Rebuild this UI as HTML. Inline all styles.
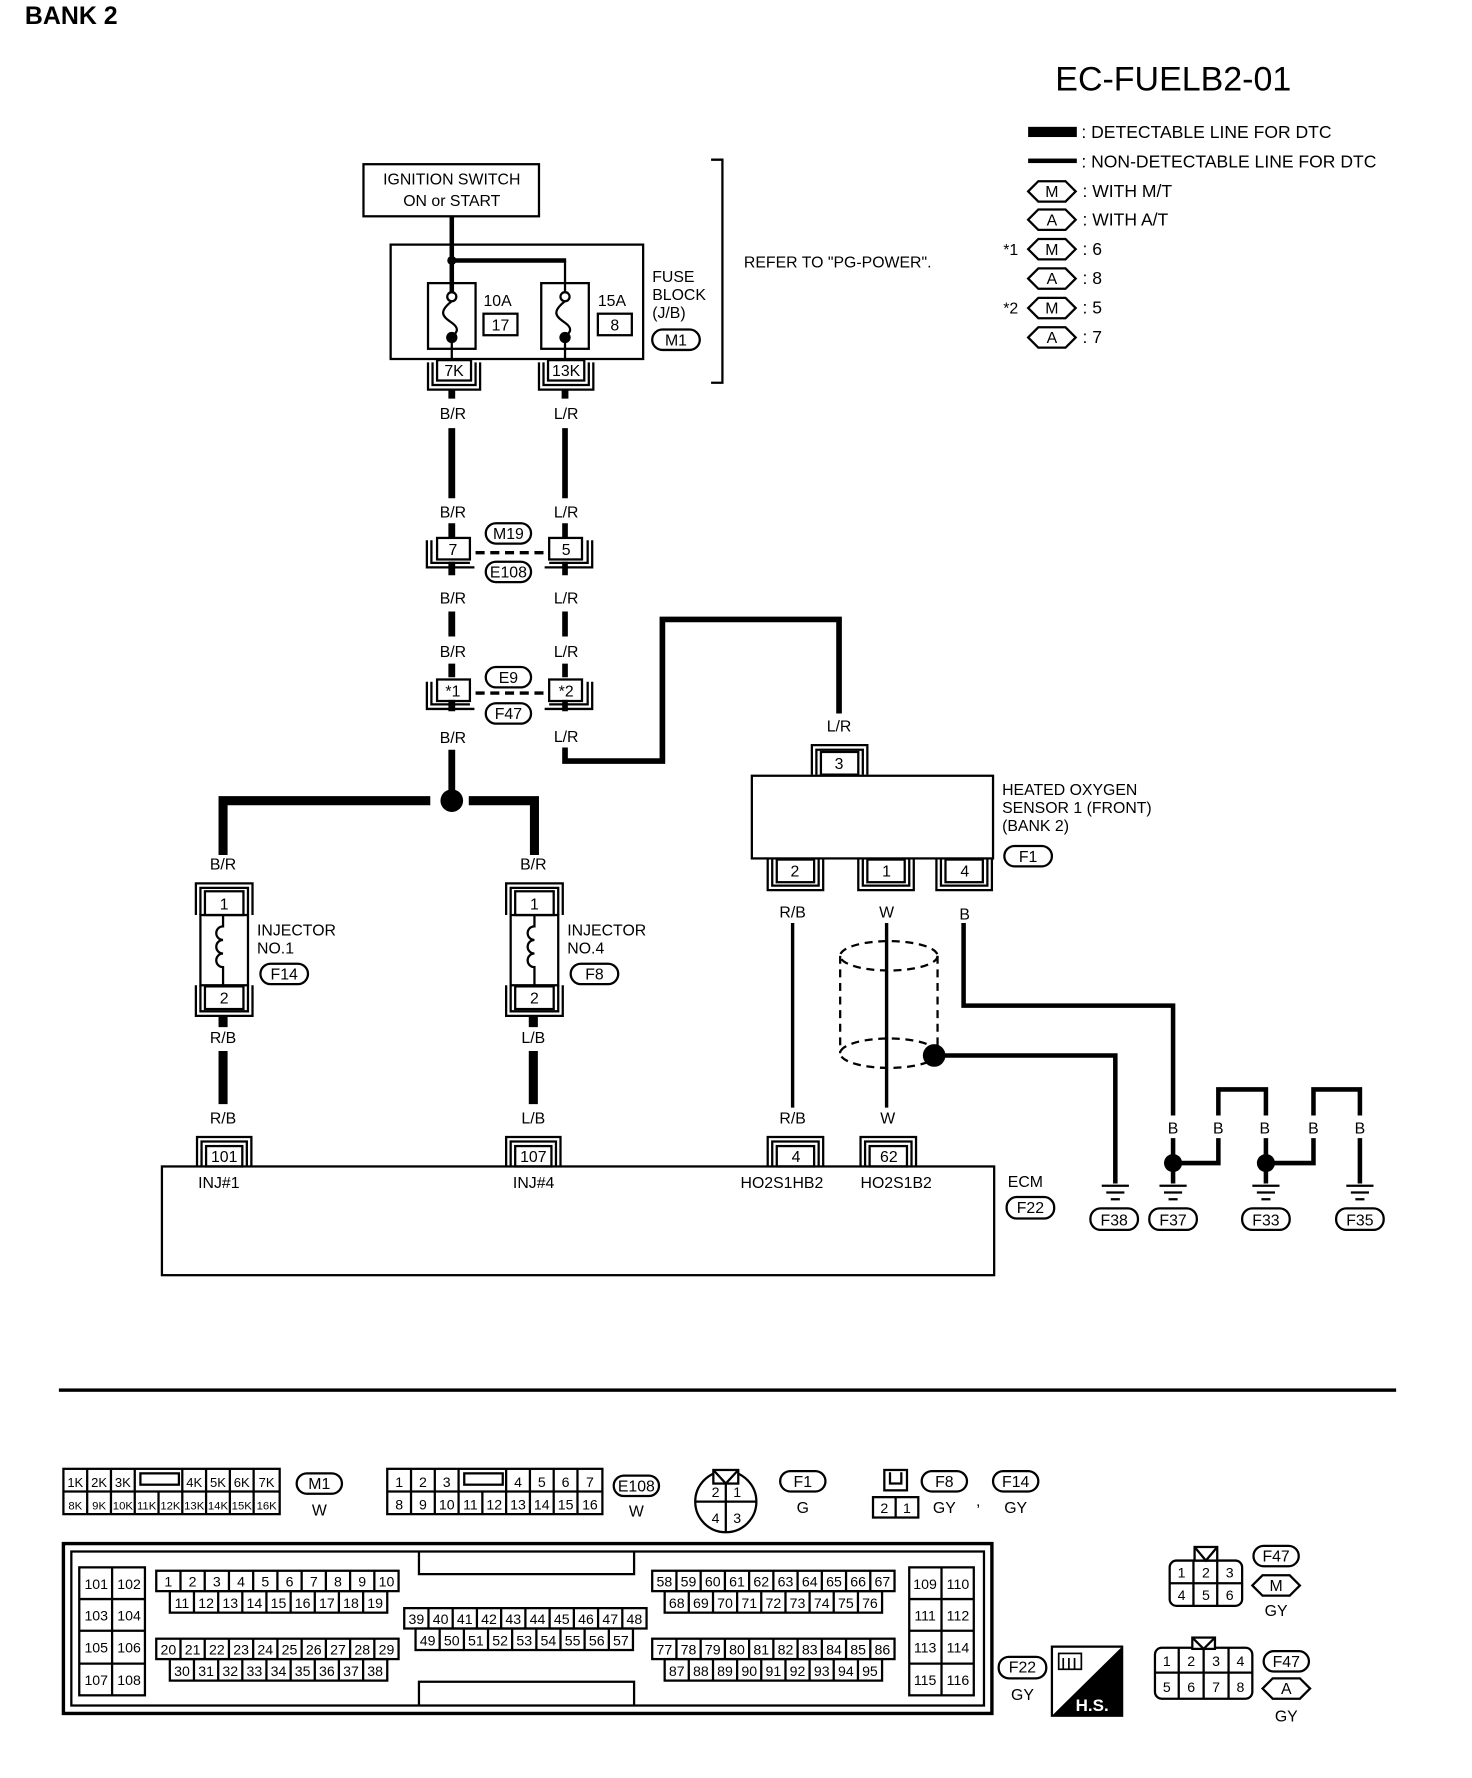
<!DOCTYPE html>
<html><head><meta charset="utf-8"><style>
html,body{margin:0;padding:0;background:#fff}
svg{display:block}
text{font-family:"Liberation Sans",sans-serif;fill:#000}
.t{font-size:14px}
.p{font-size:12.5px;text-anchor:middle}
.m{text-anchor:middle}
.l{font-size:15.5px}
</style></head><body>
<svg width="1472" height="1778" viewBox="0 0 1300 1570" preserveAspectRatio="none" xmlns="http://www.w3.org/2000/svg">
<defs>
<g id="rowA" fill="none" stroke="#000" stroke-width="2"><rect x="138" y="0" width="214" height="18"/><path d="M159.4 0V18M180.8 0V18M202.2 0V18M223.6 0V18M245 0V18M266.4 0V18M287.8 0V18M309.2 0V18M330.6 0V18"/></g>
<g id="rowB" fill="none" stroke="#000" stroke-width="2"><rect x="150" y="0" width="192" height="19"/><path d="M171.3 0V19M192.7 0V19M214 0V19M235.3 0V19M256.7 0V19M278 0V19M299.3 0V19M320.7 0V19"/></g>
</defs>
<rect width="1300" height="1570" fill="#fff"/>
<text x="22" y="21" style="font-size:22px;font-weight:bold">BANK 2</text>
<text x="932" y="80" style="font-size:30px">EC-FUELB2-01</text>

<!-- legend -->
<rect x="908" y="112" width="43" height="9" fill="#000"/>
<text class="l" x="955" y="122">: DETECTABLE LINE FOR DTC</text>
<rect x="908" y="140" width="43" height="4" fill="#000"/>
<text class="l" x="955" y="148">: NON-DETECTABLE LINE FOR DTC</text>
<g fill="#fff" stroke="#000" stroke-width="2">
<polygon points="908,169 917,160 941,160 950,169 941,178 917,178"/>
<polygon points="908,194 917,185 941,185 950,194 941,203 917,203"/>
<polygon points="908,220 917,211 941,211 950,220 941,229 917,229"/>
<polygon points="908,246 917,237 941,237 950,246 941,255 917,255"/>
<polygon points="908,272 917,263 941,263 950,272 941,281 917,281"/>
<polygon points="908,298 917,289 941,289 950,298 941,307 917,307"/>
</g>
<text class="t m" x="929" y="174">M</text><text class="l" x="956" y="174">: WITH M/T</text>
<text class="t m" x="929" y="199">A</text><text class="l" x="956" y="199">: WITH A/T</text>
<text class="t" x="886" y="225">*1</text><text class="t m" x="929" y="225">M</text><text class="l" x="956" y="225">: 6</text>
<text class="t m" x="929" y="251">A</text><text class="l" x="956" y="251">: 8</text>
<text class="t" x="886" y="277">*2</text><text class="t m" x="929" y="277">M</text><text class="l" x="956" y="277">: 5</text>
<text class="t m" x="929" y="303">A</text><text class="l" x="956" y="303">: 7</text>

<!-- ignition + fuse block -->
<g fill="none" stroke="#000" stroke-width="2">
<rect x="321" y="145" width="155" height="46"/>
<rect x="345" y="216" width="223" height="101"/>
<rect x="378" y="250" width="42" height="58"/>
<rect x="478" y="250" width="42" height="58"/>
<rect x="427" y="277" width="30" height="19"/>
<rect x="528" y="277" width="30" height="19"/>
<path d="M628 141H638V338H628"/>
<path d="M499 230V258M399 302V318M499 302V318"/>
<path d="M399 266C386 276 392 280 399 285C406 290 404 293 399 298"/>
<path d="M499 266C486 276 492 280 499 285C506 290 504 293 499 298"/>
<circle cx="399" cy="262" r="4"/><circle cx="499" cy="262" r="4"/>
</g>
<path d="M399 191V258M399 230H500" stroke="#000" stroke-width="4" fill="none"/>
<circle cx="399" cy="230" r="4"/><circle cx="399" cy="298" r="5"/><circle cx="499" cy="298" r="5"/>
<text class="t m" x="399" y="163">IGNITION SWITCH</text>
<text class="t m" x="399" y="182">ON or START</text>
<text class="t" x="427" y="270">10A</text><text class="t m" x="442" y="292">17</text>
<text class="t" x="528" y="270">15A</text><text class="t m" x="543" y="292">8</text>
<text class="t" x="576" y="249">FUSE</text><text class="t" x="576" y="265">BLOCK</text><text class="t" x="576" y="281">(J/B)</text>
<rect x="576" y="291" width="42" height="18" rx="9" fill="none" stroke="#000" stroke-width="2"/><text class="t m" x="597" y="305">M1</text>
<text class="t" x="657" y="236">REFER TO "PG-POWER".</text>

<!-- connectors under fuse -->
<g fill="none" stroke="#000" stroke-width="2">
<rect x="386" y="318" width="30" height="18"/><path d="M382 320V340H420V320M378 320V344H424V320"/>
<rect x="484" y="318" width="32" height="18"/><path d="M480 320V340H520V320M476 320V344H524V320"/>
</g>
<text class="t m" x="401" y="332">7K</text><text class="t m" x="500" y="332">13K</text>

<!-- wires top -->
<g stroke="#000" fill="none">
<path d="M399 344V352M499 344V352" stroke-width="6"/>
<path d="M399 378V440M399 462V476M399 496V508M399 540V562M399 586V598M399 618V628M399 662V700" stroke-width="6"/>
<path d="M499 378V440M499 462V476M499 496V508M499 540V562M499 586V598M499 618V628" stroke-width="5"/>
<path d="M499 660V672H585V547H741V630" stroke-width="5"/>
<path d="M197 755V707H380M414 707H472V755" stroke-width="8"/>
</g>
<circle cx="399" cy="707" r="10"/>
<text class="t m" x="400" y="370">B/R</text><text class="t m" x="500" y="370">L/R</text>
<text class="t m" x="400" y="457">B/R</text><text class="t m" x="500" y="457">L/R</text>
<text class="t m" x="400" y="533">B/R</text><text class="t m" x="500" y="533">L/R</text>
<text class="t m" x="400" y="580">B/R</text><text class="t m" x="500" y="580">L/R</text>
<text class="t m" x="400" y="656">B/R</text><text class="t m" x="500" y="655">L/R</text>
<text class="t m" x="741" y="646">L/R</text>
<!-- inline connectors -->
<g fill="none" stroke="#000" stroke-width="2">
<rect x="386" y="475" width="29" height="19"/><path d="M381 477V497H415M377 477V501H419"/>
<rect x="485" y="475" width="29" height="19"/><path d="M485 497H519V477M481 501H523V477"/>
<path d="M420 488H480" stroke-width="3" stroke-dasharray="8 5"/>
<rect x="429" y="462" width="40" height="18" rx="9"/><rect x="429" y="496" width="40" height="18" rx="9"/>
<rect x="386" y="600" width="29" height="19"/><path d="M381 602V622H415M377 602V626H419"/>
<rect x="485" y="600" width="29" height="19"/><path d="M485 622H519V602M481 626H523V602"/>
<path d="M420 612H480" stroke-width="3" stroke-dasharray="8 5"/>
<rect x="429" y="589" width="40" height="18" rx="9"/><rect x="429" y="621" width="40" height="18" rx="9"/>
</g>
<text class="t m" x="400" y="490">7</text><text class="t m" x="500" y="490">5</text>
<text class="t m" x="449" y="476">M19</text><text class="t m" x="449" y="510">E108</text>
<text class="t m" x="400" y="615">*1</text><text class="t m" x="500" y="615">*2</text>
<text class="t m" x="449" y="603">E9</text><text class="t m" x="449" y="635">F47</text>

<!-- injectors -->
<g fill="none" stroke="#000" stroke-width="2">
<rect x="181" y="787" width="34" height="21"/><path d="M177 808V784H219V808M173 808V780H223V808"/>
<rect x="177" y="808" width="42" height="62"/>
<rect x="181" y="871" width="34" height="20"/><path d="M177 870V893H219V870M173 870V897H223V870"/>
<path d="M197 808V818a6 6 0 1 0 0 12a6 6 0 1 0 0 12a6 6 0 1 0 0 12V870"/>
<rect x="455" y="787" width="34" height="21"/><path d="M451 808V784H493V808M447 808V780H497V808"/>
<rect x="451" y="808" width="42" height="62"/>
<rect x="455" y="871" width="34" height="20"/><path d="M451 870V893H493V870M447 870V897H497V870"/>
<path d="M472 808V818a6 6 0 1 0 0 12a6 6 0 1 0 0 12a6 6 0 1 0 0 12V870"/>
<rect x="230" y="851" width="42" height="18" rx="9"/><rect x="504" y="851" width="42" height="18" rx="9"/>
</g>
<text class="t m" x="198" y="803">1</text><text class="t m" x="198" y="886">2</text>
<text class="t m" x="472" y="803">1</text><text class="t m" x="472" y="886">2</text>
<text class="t" x="227" y="826">INJECTOR</text><text class="t" x="227" y="842">NO.1</text><text class="t m" x="251" y="865">F14</text>
<text class="t" x="501" y="826">INJECTOR</text><text class="t" x="501" y="842">NO.4</text><text class="t m" x="525" y="865">F8</text>
<text class="t m" x="197" y="768">B/R</text><text class="t m" x="471" y="768">B/R</text>
<path d="M197 897V907M197 928V975M471 897V907M471 928V975" stroke="#000" stroke-width="8"/>
<text class="t m" x="197" y="921">R/B</text><text class="t m" x="471" y="921">L/B</text>
<text class="t m" x="197" y="992">R/B</text><text class="t m" x="471" y="992">L/B</text>

<!-- HO2S -->
<g fill="none" stroke="#000" stroke-width="2">
<rect x="664" y="685" width="213" height="73"/>
<rect x="725" y="664" width="33" height="20"/><path d="M721 684V662H762V684M717 684V658H766V684"/>
<rect x="686" y="759" width="33" height="20"/><path d="M682 758V782H723V758M678 758V786H727V758"/>
<rect x="766" y="759" width="33" height="20"/><path d="M762 758V782H803V758M758 758V786H807V758"/>
<rect x="835" y="759" width="33" height="20"/><path d="M831 758V782H872V758M827 758V786H876V758"/>
<rect x="887" y="747" width="42" height="18" rx="9"/>
</g>
<text class="t m" x="741" y="679">3</text>
<text class="t m" x="702" y="774">2</text><text class="t m" x="783" y="774">1</text><text class="t m" x="852" y="774">4</text>
<text class="t" x="885" y="702">HEATED OXYGEN</text><text class="t" x="885" y="718">SENSOR 1 (FRONT)</text><text class="t" x="885" y="734">(BANK 2)</text>
<text class="t m" x="908" y="761">F1</text>
<text class="t m" x="700" y="810">R/B</text><text class="t m" x="783" y="810">W</text><text class="t m" x="852" y="812">B</text>
<g stroke="#000" fill="none" stroke-width="3">
<path d="M700 815V978M783 815V978"/>
<path d="M851 815V888H1036V985M1036 1005V1045" stroke-width="4"/>
<path d="M825 932H985V1045" stroke-width="4"/>
<path d="M1036 1027H1076V1005M1076 985V962H1118V985M1118 1005V1045M1118 1027H1160V1005M1160 985V962H1201V985M1201 1005V1045" stroke-width="4"/>
</g>
<g stroke="#000" fill="none" stroke-width="2" stroke-dasharray="7 5">
<ellipse cx="785" cy="844" rx="43" ry="13"/>
<ellipse cx="785" cy="930" rx="43" ry="13"/>
<path d="M742 844V930M828 844V930"/>
</g>
<circle cx="825" cy="932" r="10"/>
<circle cx="1036" cy="1027" r="8"/><circle cx="1118" cy="1027" r="8"/>
<text class="t m" x="1036" y="1001">B</text><text class="t m" x="1076" y="1001">B</text><text class="t m" x="1117" y="1001">B</text><text class="t m" x="1160" y="1001">B</text><text class="t m" x="1201" y="1001">B</text>
<text class="t m" x="700" y="992">R/B</text><text class="t m" x="784" y="992">W</text>
<!-- grounds -->
<g stroke="#000" fill="none" stroke-width="2">
<path d="M973 1047H997M977 1053H993M981 1059H989"/>
<path d="M1024 1047H1048M1028 1053H1044M1032 1059H1040"/>
<path d="M1106 1047H1130M1110 1053H1126M1114 1059H1122"/>
<path d="M1189 1047H1213M1193 1053H1209M1197 1059H1205"/>
<rect x="963" y="1067" width="42" height="19" rx="9"/>
<rect x="1015" y="1067" width="42" height="19" rx="9"/>
<rect x="1097" y="1067" width="42" height="19" rx="9"/>
<rect x="1180" y="1067" width="42" height="19" rx="9"/>
</g>
<text class="t m" x="984" y="1082">F38</text><text class="t m" x="1036" y="1082">F37</text><text class="t m" x="1118" y="1082">F33</text><text class="t m" x="1201" y="1082">F35</text>

<!-- ECM -->
<g fill="none" stroke="#000" stroke-width="2">
<rect x="143" y="1030" width="735" height="96"/>
<rect x="182" y="1012" width="32" height="18"/><path d="M178 1030V1008H218V1030M174 1030V1004H222V1030"/>
<rect x="455" y="1012" width="32" height="18"/><path d="M451 1030V1008H491V1030M447 1030V1004H495V1030"/>
<rect x="686" y="1012" width="33" height="18"/><path d="M682 1030V1008H723V1030M678 1030V1004H727V1030"/>
<rect x="768" y="1012" width="33" height="18"/><path d="M764 1030V1008H805V1030M760 1030V1004H809V1030"/>
<rect x="889" y="1057" width="42" height="19" rx="9"/>
</g>
<text class="t m" x="198" y="1026">101</text><text class="t m" x="471" y="1026">107</text><text class="t m" x="703" y="1026">4</text><text class="t m" x="785" y="1026">62</text>
<text class="t" x="175" y="1049">INJ#1</text><text class="t" x="453" y="1049">INJ#4</text><text class="t" x="654" y="1049">HO2S1HB2</text><text class="t" x="760" y="1049">HO2S1B2</text>
<text class="t" x="890" y="1048">ECM</text><text class="t m" x="910" y="1071">F22</text>

<rect x="52" y="1226" width="1181" height="3" fill="#000"/>

<!-- M1 / E108 connectors -->
<g fill="none" stroke="#000" stroke-width="2">
<rect x="56" y="1297" width="191" height="40"/>
<path d="M56 1317H247M77 1297V1337M98 1297V1337M119 1297V1337M161 1297V1317M140 1317V1337M161 1317V1337M182 1297V1337M203 1297V1337M224 1297V1337"/>
<rect x="124" y="1301" width="34" height="10"/>
<rect x="262" y="1301" width="40" height="18" rx="9"/>
<rect x="342" y="1297" width="190" height="40"/>
<path d="M342 1317H532M363 1297V1337M384 1297V1337M405 1297V1337M447 1297V1337M426 1317V1337M468 1297V1337M489 1297V1337M510 1297V1337"/>
<rect x="410" y="1301" width="34" height="10"/>
<rect x="542" y="1303" width="40" height="18" rx="9"/>
</g>
<text class="p" y="1313" style="font-size:11.5px"><tspan x="66.5">1K</tspan><tspan x="87.5">2K</tspan><tspan x="108.5">3K</tspan><tspan x="171.5">4K</tspan><tspan x="192.5">5K</tspan><tspan x="213.5">6K</tspan><tspan x="235.5">7K</tspan></text>
<text class="p" y="1333" style="font-size:10px"><tspan x="66.5">8K</tspan><tspan x="87.5">9K</tspan><tspan x="108.5">10K</tspan><tspan x="129.5">11K</tspan><tspan x="150.5">12K</tspan><tspan x="171.5">13K</tspan><tspan x="192.5">14K</tspan><tspan x="213.5">15K</tspan><tspan x="235.5">16K</tspan></text>
<text class="p" y="1313"><tspan x="352.5">1</tspan><tspan x="373.5">2</tspan><tspan x="394.5">3</tspan><tspan x="457.5">4</tspan><tspan x="478.5">5</tspan><tspan x="499.5">6</tspan><tspan x="521">7</tspan></text>
<text class="p" y="1333"><tspan x="352.5">8</tspan><tspan x="373.5">9</tspan><tspan x="394.5">10</tspan><tspan x="415.5">11</tspan><tspan x="436.5">12</tspan><tspan x="457.5">13</tspan><tspan x="478.5">14</tspan><tspan x="499.5">15</tspan><tspan x="521">16</tspan></text>
<text class="t m" x="282" y="1315">M1</text><text class="t m" x="282" y="1338">W</text>
<text class="t m" x="562" y="1317">E108</text><text class="t m" x="562" y="1339">W</text>

<!-- F1 round -->
<g fill="none" stroke="#000" stroke-width="2">
<circle cx="641" cy="1326" r="27"/><path d="M614 1326H668M641 1310V1353"/>
<rect x="630" y="1298" width="22" height="12" fill="#fff"/><path d="M630 1298L641 1310L652 1298"/>
<rect x="689" y="1299" width="40" height="18" rx="9"/>
<rect x="781" y="1298" width="20" height="18"/><path d="M786 1300V1310H796V1300"/>
<rect x="771" y="1322" width="40" height="18"/><path d="M791 1322V1340"/>
<rect x="814" y="1299" width="40" height="18" rx="9"/>
<rect x="877" y="1299" width="40" height="18" rx="9"/>
</g>
<text class="p" x="632" y="1322">2</text><text class="p" x="651" y="1322">1</text><text class="p" x="632" y="1345">4</text><text class="p" x="651" y="1345">3</text>
<text class="t m" x="709" y="1313">F1</text><text class="t m" x="709" y="1336">G</text>
<text class="p" x="781" y="1336">2</text><text class="p" x="801" y="1336">1</text>
<text class="t m" x="834" y="1313">F8</text><text class="t m" x="834" y="1336">GY</text>
<text class="t" x="862" y="1330">,</text>
<text class="t m" x="897" y="1313">F14</text><text class="t m" x="897" y="1336">GY</text>

<!-- ECM connector -->
<g fill="none" stroke="#000" stroke-width="2">
<rect x="56" y="1363" width="820" height="150" stroke-width="3"/>
<rect x="63" y="1370" width="806" height="136"/>
<path d="M370 1370V1390H560V1370M370 1506V1485H560V1506"/>
<rect x="70" y="1384" width="58" height="113"/>
<path d="M99 1384V1497M70 1412H128M70 1440H128M70 1469H128"/>
<rect x="803" y="1384" width="57" height="113"/>
<path d="M831.5 1384V1497M803 1412H860M803 1440H860M803 1469H860"/>
</g>
<use href="#rowA" transform="translate(0,1387)"/><use href="#rowB" transform="translate(0,1405)"/>
<use href="#rowA" transform="translate(0,1447)"/><use href="#rowB" transform="translate(0,1465)"/>
<use href="#rowA" transform="translate(219,1420)"/><use href="#rowB" transform="translate(217,1438)"/>
<use href="#rowA" transform="translate(438,1387)"/><use href="#rowB" transform="translate(437,1405)"/>
<use href="#rowA" transform="translate(438,1447)"/><use href="#rowB" transform="translate(437,1465)"/>
<text class="p" y="1401"><tspan x="148.7">1</tspan><tspan x="170.1">2</tspan><tspan x="191.5">3</tspan><tspan x="212.9">4</tspan><tspan x="234.3">5</tspan><tspan x="255.7">6</tspan><tspan x="277.1">7</tspan><tspan x="298.5">8</tspan><tspan x="319.9">9</tspan><tspan x="341.3">10</tspan></text>
<text class="p" y="1420"><tspan x="160.7">11</tspan><tspan x="182">12</tspan><tspan x="203.3">13</tspan><tspan x="224.7">14</tspan><tspan x="246">15</tspan><tspan x="267.3">16</tspan><tspan x="288.7">17</tspan><tspan x="310">18</tspan><tspan x="331.3">19</tspan></text>
<text class="p" y="1461"><tspan x="148.7">20</tspan><tspan x="170.1">21</tspan><tspan x="191.5">22</tspan><tspan x="212.9">23</tspan><tspan x="234.3">24</tspan><tspan x="255.7">25</tspan><tspan x="277.1">26</tspan><tspan x="298.5">27</tspan><tspan x="319.9">28</tspan><tspan x="341.3">29</tspan></text>
<text class="p" y="1480"><tspan x="160.7">30</tspan><tspan x="182">31</tspan><tspan x="203.3">32</tspan><tspan x="224.7">33</tspan><tspan x="246">34</tspan><tspan x="267.3">35</tspan><tspan x="288.7">36</tspan><tspan x="310">37</tspan><tspan x="331.3">38</tspan></text>
<text class="p" y="1434"><tspan x="367.7">39</tspan><tspan x="389.1">40</tspan><tspan x="410.5">41</tspan><tspan x="431.9">42</tspan><tspan x="453.3">43</tspan><tspan x="474.7">44</tspan><tspan x="496.1">45</tspan><tspan x="517.5">46</tspan><tspan x="538.9">47</tspan><tspan x="560.3">48</tspan></text>
<text class="p" y="1453"><tspan x="377.7">49</tspan><tspan x="399">50</tspan><tspan x="420.3">51</tspan><tspan x="441.7">52</tspan><tspan x="463">53</tspan><tspan x="484.3">54</tspan><tspan x="505.7">55</tspan><tspan x="527">56</tspan><tspan x="548.3">57</tspan></text>
<text class="p" y="1401"><tspan x="586.7">58</tspan><tspan x="608.1">59</tspan><tspan x="629.5">60</tspan><tspan x="650.9">61</tspan><tspan x="672.3">62</tspan><tspan x="693.7">63</tspan><tspan x="715.1">64</tspan><tspan x="736.5">65</tspan><tspan x="757.9">66</tspan><tspan x="779.3">67</tspan></text>
<text class="p" y="1420"><tspan x="597.7">68</tspan><tspan x="619">69</tspan><tspan x="640.3">70</tspan><tspan x="661.7">71</tspan><tspan x="683">72</tspan><tspan x="704.3">73</tspan><tspan x="725.7">74</tspan><tspan x="747">75</tspan><tspan x="768.3">76</tspan></text>
<text class="p" y="1461"><tspan x="586.7">77</tspan><tspan x="608.1">78</tspan><tspan x="629.5">79</tspan><tspan x="650.9">80</tspan><tspan x="672.3">81</tspan><tspan x="693.7">82</tspan><tspan x="715.1">83</tspan><tspan x="736.5">84</tspan><tspan x="757.9">85</tspan><tspan x="779.3">86</tspan></text>
<text class="p" y="1480"><tspan x="597.7">87</tspan><tspan x="619">88</tspan><tspan x="640.3">89</tspan><tspan x="661.7">90</tspan><tspan x="683">91</tspan><tspan x="704.3">92</tspan><tspan x="725.7">93</tspan><tspan x="747">94</tspan><tspan x="768.3">95</tspan></text>
<text class="p" y="1403"><tspan x="85">101</tspan><tspan x="114">102</tspan><tspan x="817">109</tspan><tspan x="846">110</tspan></text>
<text class="p" y="1431"><tspan x="85">103</tspan><tspan x="114">104</tspan><tspan x="817">111</tspan><tspan x="846">112</tspan></text>
<text class="p" y="1459"><tspan x="85">105</tspan><tspan x="114">106</tspan><tspan x="817">113</tspan><tspan x="846">114</tspan></text>
<text class="p" y="1488"><tspan x="85">107</tspan><tspan x="114">108</tspan><tspan x="817">115</tspan><tspan x="846">116</tspan></text>

<rect x="882" y="1463" width="42" height="19" rx="9" fill="none" stroke="#000" stroke-width="2"/>
<text class="t m" x="903" y="1477">F22</text><text class="t m" x="903" y="1501">GY</text>
<!-- H.S. -->
<rect x="929" y="1454" width="62" height="61" fill="#fff" stroke="#000" stroke-width="2"/>
<polygon points="991,1454 991,1515 929,1515" fill="#000"/>
<g fill="none" stroke="#000" stroke-width="1.5"><rect x="935" y="1460" width="20" height="14"/><path d="M939 1464V1474M944 1464V1474M949 1464V1474"/></g>
<text x="950" y="1511" style="font-size:15px;fill:#fff;font-weight:bold">H.S.</text>

<!-- F47 -->
<g fill="none" stroke="#000" stroke-width="2">
<rect x="1033" y="1378" width="64" height="40" rx="6"/>
<path d="M1033 1398H1097M1054 1378V1418M1075 1378V1418"/>
<rect x="1055" y="1366" width="20" height="12" fill="#fff"/><path d="M1055 1366L1065 1378L1075 1366"/>
<rect x="1107" y="1365" width="40" height="18" rx="9"/>
<polygon points="1106,1400 1115,1391 1139,1391 1148,1400 1139,1409 1115,1409"/>
<rect x="1020" y="1455" width="86" height="45" rx="6"/>
<path d="M1020 1477H1106M1041 1455V1500M1063 1455V1500M1085 1455V1500"/>
<rect x="1053" y="1446" width="20" height="10" fill="#fff"/><path d="M1053 1446L1063 1456L1073 1446"/>
<rect x="1116" y="1458" width="40" height="18" rx="9"/>
<polygon points="1115,1491 1124,1482 1148,1482 1157,1491 1148,1500 1124,1500"/>
</g>
<text class="p" y="1393"><tspan x="1043.5">1</tspan><tspan x="1065">2</tspan><tspan x="1086">3</tspan></text>
<text class="p" y="1413"><tspan x="1043.5">4</tspan><tspan x="1065">5</tspan><tspan x="1086">6</tspan></text>
<text class="p" y="1471"><tspan x="1030.5">1</tspan><tspan x="1052">2</tspan><tspan x="1074">3</tspan><tspan x="1095.5">4</tspan></text>
<text class="p" y="1494"><tspan x="1030.5">5</tspan><tspan x="1052">6</tspan><tspan x="1074">7</tspan><tspan x="1095.5">8</tspan></text>
<text class="t m" x="1127" y="1379">F47</text><text class="t m" x="1127" y="1405">M</text><text class="t m" x="1127" y="1427">GY</text>
<text class="t m" x="1136" y="1472">F47</text><text class="t m" x="1136" y="1496">A</text><text class="t m" x="1136" y="1520">GY</text>
</svg>
</body></html>
